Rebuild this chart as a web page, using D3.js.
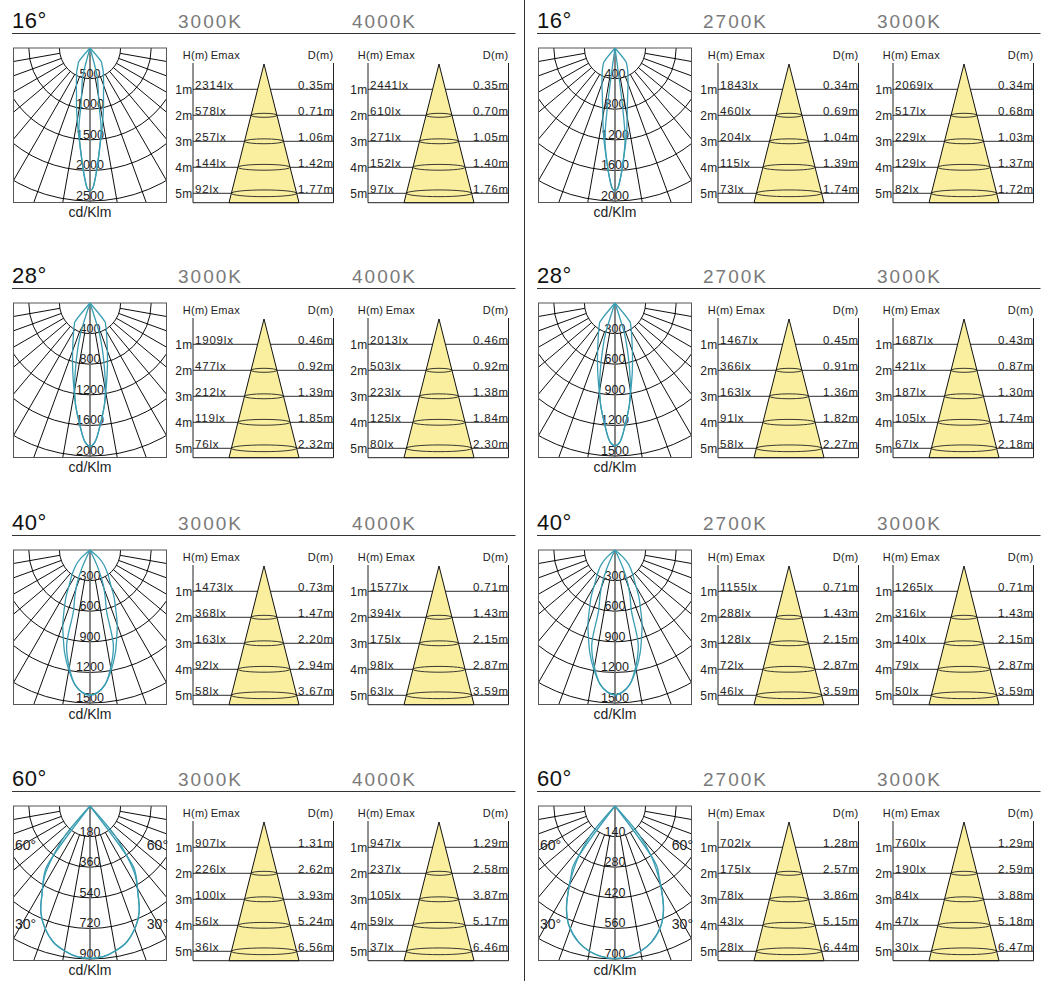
<!DOCTYPE html>
<html>
<head>
<meta charset="utf-8">
<script src="https://cdn.jsdelivr.net/npm/d3@7"></script>
<style>body{margin:0;background:#fff}</style>
</head>
<body>
<div id="chart"></div>
<script>
// ---- data ----
const heights = ["1m", "2m", "3m", "4m", "5m"];
const leftTemps = ["3000K", "4000K"];
const rightTemps = ["2700K", "3000K"];

// ring labels (cd/Klm)
const ringsL16 = [500, 1000, 1500, 2000, 2500];
const ringsL28 = [400, 800, 1200, 1600, 2000];
const ringsL40 = [300, 600, 900, 1200, 1500];
const ringsL60 = [180, 360, 540, 720, 900];
const ringsR16 = [400, 800, 1200, 1600, 2000];
const ringsR28 = [300, 600, 900, 1200, 1500];
const ringsR40 = [300, 600, 900, 1200, 1500];
const ringsR60 = [140, 280, 420, 560, 700];

// half curves [angle from nadir, cd/Klm], mirrored when drawn
const curveA_L16 = [[0,2330],[1,2300],[2.5,2100],[4,1860],[6,1580],[8,1380],[10,1200],[13,980],[16,800],[20,650],[25,520],[30,430],[36,330],[39,300],[41,0]];
const curveB_L16 = [[0,2330],[1,2300],[2.5,2100],[4,1860],[6,1580],[8,1300],[9,930],[11,700],[14,500],[15.5,0]];
const curveA_R16 = [[0,1865],[1,1840],[2.5,1690],[4,1500],[6.3,1260],[8,1100],[11,840],[15,640],[20,500],[25,400],[30,330],[35,270],[38,240],[40,0]];
const curveB_R16 = [[0,1865],[1,1840],[2.5,1690],[4,1500],[6.3,1200],[7.4,740],[8.2,0]];
const curveA_L28 = [[0,1875],[2,1820],[5,1580],[8,1350],[10.5,1150],[14,930],[18,740],[22,600],[27,480],[32,400],[36,345],[38,330],[40,0]];
const curveB_L28 = [[0,1875],[2,1820],[5,1580],[8,1350],[10.5,1100],[12.7,850],[15,620],[17.2,410],[18.5,0]];
const curveA_R28 = [[0,1400],[2,1365],[5,1185],[8,1010],[10.5,860],[14,700],[18,555],[22,450],[27,360],[32,300],[36,260],[38,245],[40,0]];
const curveB_R28 = [[0,1400],[2,1365],[5,1185],[8,1010],[10.5,825],[12.7,640],[15,465],[17.2,310],[18.5,0]];
const curveA_L40 = [[0,1422],[3,1400],[6.3,1331],[10.4,1180],[13.8,1040],[16.8,905],[20,780],[22.9,657],[27,520],[30.6,399],[36,300],[43,201],[48,120],[52,0]];
const curveB_L40 = [[0,1422],[3,1400],[6.3,1331],[10.4,1150],[13.8,960],[15.1,627],[18,480],[20.8,367],[24,200],[27,0]];
const curveA_R40 = [[0,1420],[3,1395],[6.3,1325],[10.4,1175],[13.8,1035],[16.8,900],[20,775],[22.9,650],[27,515],[30.6,395],[36,295],[43,200],[48,115],[52,0]];
const curveB_R40 = [[0,1420],[3,1395],[6.3,1325],[10.4,1145],[13.8,955],[15.1,620],[18,475],[20.8,360],[24,195],[27,0]];
const curveA_L60 = [[0,896],[5,890],[10,865],[15,830],[21,755],[25,685],[29,580],[33,500],[35.5,440],[36.5,0]];
const curveB_L60 = [[0,896],[5,890],[10,865],[15,830],[21,755],[25,685],[29,580],[33,490],[36,380],[40,230],[42,0]];
const curveA_R60 = [[0,698],[5,692],[10,675],[15,645],[20.9,588],[25,525],[28.5,450],[32,380],[35,332],[36.2,0]];
const curveB_R60 = [[0,698],[5,692],[10,675],[15,645],[20.9,588],[25,525],[28.5,450],[32,370],[36,280],[40,170],[42,0]];

// Emax (lx) and beam diameter D (m) at 1..5 m
const emaxL16_3000 = [2314, 578, 257, 144, 92];   const distL16_3000 = [0.35, 0.71, 1.06, 1.42, 1.77];
const emaxL16_4000 = [2441, 610, 271, 152, 97];   const distL16_4000 = [0.35, 0.70, 1.05, 1.40, 1.76];
const emaxL28_3000 = [1909, 477, 212, 119, 76];   const distL28_3000 = [0.46, 0.92, 1.39, 1.85, 2.32];
const emaxL28_4000 = [2013, 503, 223, 125, 80];   const distL28_4000 = [0.46, 0.92, 1.38, 1.84, 2.30];
const emaxL40_3000 = [1473, 368, 163, 92, 58];    const distL40_3000 = [0.73, 1.47, 2.20, 2.94, 3.67];
const emaxL40_4000 = [1577, 394, 175, 98, 63];    const distL40_4000 = [0.71, 1.43, 2.15, 2.87, 3.59];
const emaxL60_3000 = [907, 226, 100, 56, 36];     const distL60_3000 = [1.31, 2.62, 3.93, 5.24, 6.56];
const emaxL60_4000 = [947, 237, 105, 59, 37];     const distL60_4000 = [1.29, 2.58, 3.87, 5.17, 6.46];
const emaxR16_2700 = [1843, 460, 204, 115, 73];   const distR16_2700 = [0.34, 0.69, 1.04, 1.39, 1.74];
const emaxR16_3000 = [2069, 517, 229, 129, 82];   const distR16_3000 = [0.34, 0.68, 1.03, 1.37, 1.72];
const emaxR28_2700 = [1467, 366, 163, 91, 58];    const distR28_2700 = [0.45, 0.91, 1.36, 1.82, 2.27];
const emaxR28_3000 = [1687, 421, 187, 105, 67];   const distR28_3000 = [0.43, 0.87, 1.30, 1.74, 2.18];
const emaxR40_2700 = [1155, 288, 128, 72, 46];    const distR40_2700 = [0.71, 1.43, 2.15, 2.87, 3.59];
const emaxR40_3000 = [1265, 316, 140, 79, 50];    const distR40_3000 = [0.71, 1.43, 2.15, 2.87, 3.59];
const emaxR60_2700 = [702, 175, 78, 43, 28];      const distR60_2700 = [1.28, 2.57, 3.86, 5.15, 6.44];
const emaxR60_3000 = [760, 190, 84, 47, 30];      const distR60_3000 = [1.29, 2.59, 3.88, 5.18, 6.47];

const panels = [
  {side: 0, row: 0, beam: "16°", temps: leftTemps, rings: ringsL16, curves: [curveA_L16, curveB_L16], emax: [emaxL16_3000, emaxL16_4000], dist: [distL16_3000, distL16_4000]},
  {side: 0, row: 1, beam: "28°", temps: leftTemps, rings: ringsL28, curves: [curveA_L28, curveB_L28], emax: [emaxL28_3000, emaxL28_4000], dist: [distL28_3000, distL28_4000]},
  {side: 0, row: 2, beam: "40°", temps: leftTemps, rings: ringsL40, curves: [curveA_L40, curveB_L40], emax: [emaxL40_3000, emaxL40_4000], dist: [distL40_3000, distL40_4000]},
  {side: 0, row: 3, beam: "60°", temps: leftTemps, rings: ringsL60, curves: [curveA_L60, curveB_L60], emax: [emaxL60_3000, emaxL60_4000], dist: [distL60_3000, distL60_4000]},
  {side: 1, row: 0, beam: "16°", temps: rightTemps, rings: ringsR16, curves: [curveA_R16, curveB_R16], emax: [emaxR16_2700, emaxR16_3000], dist: [distR16_2700, distR16_3000]},
  {side: 1, row: 1, beam: "28°", temps: rightTemps, rings: ringsR28, curves: [curveA_R28, curveB_R28], emax: [emaxR28_2700, emaxR28_3000], dist: [distR28_2700, distR28_3000]},
  {side: 1, row: 2, beam: "40°", temps: rightTemps, rings: ringsR40, curves: [curveA_R40, curveB_R40], emax: [emaxR40_2700, emaxR40_3000], dist: [distR40_2700, distR40_3000]},
  {side: 1, row: 3, beam: "60°", temps: rightTemps, rings: ringsR60, curves: [curveA_R60, curveB_R60], emax: [emaxR60_2700, emaxR60_3000], dist: [distR60_2700, distR60_3000]}
];

// ---- layout ----
const W = 1045, H = 981;
const FONT = "'Liberation Sans', Arial, Helvetica, sans-serif";
const sideX = [0, 525];
const rowY = [0, 255, 502, 758];
const rad = d => d * Math.PI / 180;

const svg = d3.select("#chart").append("svg")
  .attr("width", W).attr("height", H)
  .attr("viewBox", [0, 0, W, H])
  .style("font-family", FONT);

svg.append("rect").attr("width", W).attr("height", H).attr("fill", "#fff");

// divider between the two product families
svg.append("line")
  .attr("x1", 524.5).attr("x2", 524.5).attr("y1", 0).attr("y2", H)
  .attr("stroke", "#333").attr("stroke-width", 1);

panels.forEach((p, i) => {
  const g = svg.append("g").attr("transform", `translate(${sideX[p.side]},${rowY[p.row]})`);

  g.append("text").attr("x", 12).attr("y", 28)
    .attr("font-size", 22).attr("fill", "#111").attr("letter-spacing", 0.5)
    .text(p.beam);
  p.temps.forEach((t, j) => {
    g.append("text").attr("x", [178, 352][j]).attr("y", 28)
      .attr("font-size", 19).attr("fill", "#7a7a7a").attr("letter-spacing", 2)
      .text(t);
  });
  g.append("line")
    .attr("x1", 12).attr("x2", 515.5).attr("y1", 33.5).attr("y2", 33.5)
    .attr("stroke", "#333").attr("stroke-width", 1);

  drawPolar(g, p, i);
  p.emax.forEach((e, j) => drawTable(g, 193 + 175 * j, e, p.dist[j]));
});

function drawPolar(g, p, id) {
  const cx = 90, cy = 48, halfW = 76.5, boxH = 154.5, ringStep = 30.6;
  const r = d3.scaleLinear()
    .domain([0, d3.max(p.rings)])
    .range([0, ringStep * p.rings.length]);
  const clip = "polarclip" + id;

  g.append("clipPath").attr("id", clip)
    .append("rect")
    .attr("x", cx - halfW).attr("y", cy)
    .attr("width", halfW * 2).attr("height", boxH);

  const grid = g.append("g")
    .attr("clip-path", `url(#${clip})`)
    .attr("fill", "none").attr("stroke", "#000").attr("stroke-width", 0.95);

  // rings
  grid.selectAll("path.ring")
    .data(p.rings)
    .join("path")
      .attr("class", "ring")
      .attr("d", v => {
        const path = d3.path();
        path.arc(cx, cy, r(v), 0, Math.PI);
        return path.toString();
      });

  // rays every 10 degrees, starting at the inner ring
  const rays = d3.range(-80, 81, 10).filter(a => a !== 0);
  const r0 = r(p.rings[0]);
  grid.selectAll("line.ray")
    .data(rays)
    .join("line")
      .attr("class", "ray")
      .attr("x1", a => cx + r0 * Math.sin(rad(a)))
      .attr("y1", a => cy + r0 * Math.cos(rad(a)))
      .attr("x2", a => cx + 300 * Math.sin(rad(a)))
      .attr("y2", a => cy + 300 * Math.cos(rad(a)));

  // nadir axis
  g.append("line")
    .attr("x1", cx).attr("x2", cx).attr("y1", cy).attr("y2", cy + boxH)
    .attr("stroke", "#6f6f6f").attr("stroke-width", 1.7);

  g.append("rect")
    .attr("x", cx - halfW).attr("y", cy)
    .attr("width", halfW * 2).attr("height", boxH)
    .attr("fill", "none").attr("stroke", "#555").attr("stroke-width", 1);

  // ring values
  g.selectAll("text.ringlabel")
    .data(p.rings)
    .join("text")
      .attr("class", "ringlabel")
      .attr("x", cx).attr("y", v => cy + r(v) - 1)
      .attr("text-anchor", "middle")
      .attr("font-size", 12.5).attr("fill", "#222")
      .text(v => v);

  if (p.beam === "60°") {
    const lab = [
      {t: "60°", x: cx - 75, y: cy + 44, a: "start"},
      {t: "60°", x: cx + 78, y: cy + 44, a: "end"},
      {t: "30°", x: cx - 75, y: cy + 122.5, a: "start"},
      {t: "30°", x: cx + 78, y: cy + 122.5, a: "end"}
    ];
    g.selectAll("text.anglabel")
      .data(lab)
      .join("text")
        .attr("class", "anglabel")
        .attr("x", d => d.x).attr("y", d => d.y)
        .attr("text-anchor", d => d.a)
        .attr("font-size", 14).attr("fill", "#222")
        .text(d => d.t);
  }

  // intensity curves
  const line = d3.lineRadial()
    .angle(d => Math.PI - rad(d[0]))
    .radius(d => r(d[1]))
    .curve(d3.curveCatmullRom.alpha(0.5));

  p.curves.forEach(c => {
    const pts = c.slice().reverse().map(d => [-d[0], d[1]]).concat(c.slice(1));
    g.append("path")
      .attr("transform", `translate(${cx},${cy})`)
      .attr("d", line(pts))
      .attr("fill", "none")
      .attr("stroke", "#3a9db2").attr("stroke-width", 1.3);
  });

  g.append("text")
    .attr("x", cx).attr("y", 217)
    .attr("text-anchor", "middle")
    .attr("font-size", 14).attr("fill", "#222")
    .text("cd/Klm");
}

function drawTable(g, x0, emax, dist) {
  const w = 140.5, top = 63, bottom = 202.7;
  const y = d3.scalePoint().domain(heights).range([89.3, 193.3]);
  const apexX = x0 + 71, apexY = 64;
  const coneHalf = d3.scaleLinear().domain([apexY, bottom]).range([0, 35]);

  g.append("text").attr("x", x0 - 10.3).attr("y", 58.5)
    .attr("font-size", 11).attr("letter-spacing", 0.3).attr("fill", "#222").text("H(m)");
  g.append("text").attr("x", x0 + 17.7).attr("y", 58.5)
    .attr("font-size", 11).attr("letter-spacing", 0.3).attr("fill", "#222").text("Emax");
  g.append("text").attr("x", x0 + w).attr("y", 58.5)
    .attr("text-anchor", "end")
    .attr("font-size", 11).attr("letter-spacing", 0.3).attr("fill", "#222").text("D(m)");

  // row rules
  g.selectAll(null)
    .data(heights)
    .join("line")
      .attr("x1", x0).attr("x2", x0 + w)
      .attr("y1", d => y(d)).attr("y2", d => y(d))
      .attr("stroke", "#222").attr("stroke-width", 0.95);

  // light cone
  g.append("path")
    .attr("d", `M${apexX},${apexY}L${apexX + coneHalf(bottom)},${bottom}L${apexX - coneHalf(bottom)},${bottom}Z`)
    .attr("fill", "#faef9f").attr("stroke", "#111").attr("stroke-width", 1);

  g.selectAll(null)
    .data(heights.slice(1))
    .join("ellipse")
      .attr("cx", apexX)
      .attr("cy", d => y(d))
      .attr("rx", d => coneHalf(y(d)))
      .attr("ry", (d, i) => 2 + 0.45 * i)
      .attr("fill", "none").attr("stroke", "#222").attr("stroke-width", 0.9);

  // frame: sides and bottom
  g.append("path")
    .attr("d", `M${x0},${top}V${bottom}H${x0 + w}V${top}`)
    .attr("fill", "none").attr("stroke", "#222").attr("stroke-width", 1);

  g.selectAll(null)
    .data(heights)
    .join("text")
      .attr("x", x0 - 0.5).attr("y", d => y(d) + 4.7)
      .attr("text-anchor", "end")
      .attr("font-size", 12).attr("letter-spacing", 0.3).attr("fill", "#222")
      .text(d => d);

  g.selectAll(null)
    .data(emax)
    .join("text")
      .attr("x", x0 + 2).attr("y", (d, i) => y(heights[i]) - 0.4)
      .attr("font-size", 11.5).attr("letter-spacing", 0.8).attr("fill", "#222")
      .text(d => d + "lx");

  g.selectAll(null)
    .data(dist)
    .join("text")
      .attr("x", x0 + w + 0.5).attr("y", (d, i) => y(heights[i]) - 0.4)
      .attr("text-anchor", "end")
      .attr("font-size", 11.5).attr("letter-spacing", 0.8).attr("fill", "#222")
      .text(d => d.toFixed(2) + "m");
}
</script>
</body>
</html>
